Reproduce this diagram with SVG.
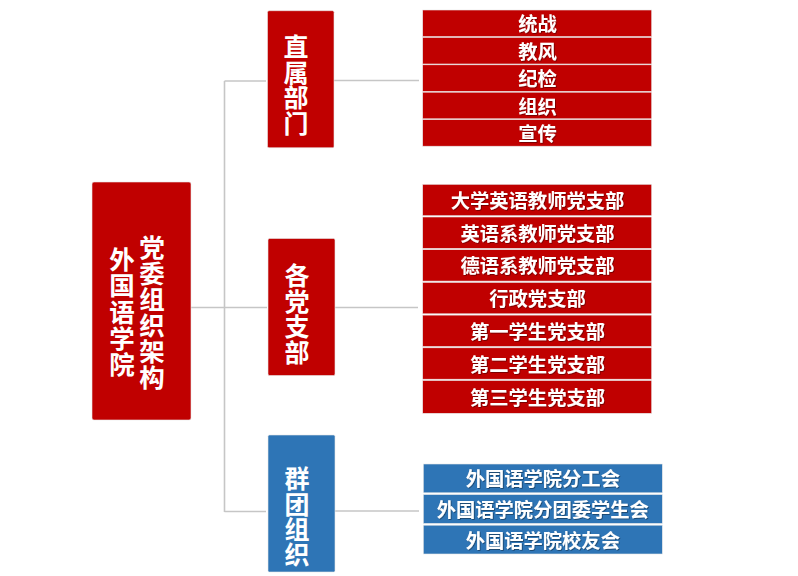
<svg xmlns="http://www.w3.org/2000/svg" width="798" height="576" viewBox="0 0 798 576">
<style>
.red{fill:#C00000}
.blue{fill:#2E75B6}
.box{stroke:#e8e8e8;stroke-width:0.6}
.t{font-family:"Noto Sans CJK SC","Noto Sans",sans-serif;font-weight:bold;fill:#ffffff;text-anchor:middle;dominant-baseline:central}
.big{font-size:25px}
.main{font-size:25.5px}
.row{font-size:19.3px;filter:url(#sh)}
.c{fill:none;stroke:#c6c6c6;stroke-width:1.6}
</style>
<defs>
<filter id="sh" x="-10%" y="-30%" width="120%" height="160%">
<feDropShadow dx="0.8" dy="0.8" stdDeviation="0.6" flood-color="#000" flood-opacity="0.45"/>
</filter>
</defs>
<rect width="798" height="576" fill="#ffffff"/>
<g id="connectors">
<path class="c" d="M224.5 81 V512"/>
<path class="c" d="M224.5 81 H266"/>
<path class="c" d="M191 307.5 H267"/>
<path class="c" d="M224.5 511.5 H266"/>
<path class="c" d="M334 80.5 H419"/>
<path class="c" d="M335 307.5 H418"/>
<path class="c" d="M335 511 H419"/>
</g>
<g id="root">
<rect class="red box" x="92" y="182" width="99" height="238" rx="2"/>
<text class="t main"><tspan x="152" y="245">党</tspan><tspan x="152" y="271">委</tspan><tspan x="152" y="297">组</tspan><tspan x="152" y="323">织</tspan><tspan x="152" y="349">架</tspan><tspan x="152" y="375">构</tspan></text>
<text class="t main"><tspan x="122" y="257">外</tspan><tspan x="122" y="283">国</tspan><tspan x="122" y="309.5">语</tspan><tspan x="122" y="336">学</tspan><tspan x="122" y="362">院</tspan></text>
</g>
<g id="zhishu">
<rect class="red box" x="267.5" y="10.7" width="66.5" height="137" rx="1.5"/>
<text class="t big"><tspan x="296" y="45">直</tspan><tspan x="296" y="70.5">属</tspan><tspan x="296" y="96">部</tspan><tspan x="296" y="121.5">门</tspan></text>
</g>
<g id="dangzhibu">
<rect class="red box" x="268" y="238.5" width="67" height="137" rx="1.5"/>
<text class="t big"><tspan x="297" y="273.5">各</tspan><tspan x="297" y="299.5">党</tspan><tspan x="297" y="325">支</tspan><tspan x="297" y="350.5">部</tspan></text>
</g>
<g id="quntuan">
<rect class="blue box" x="268" y="435" width="67" height="137" rx="1.5"/>
<text class="t big"><tspan x="297" y="477">群</tspan><tspan x="297" y="502.5">团</tspan><tspan x="297" y="528">组</tspan><tspan x="297" y="553">织</tspan></text>
</g>
<g id="list-zhishu">
<rect class="red box" x="422.7" y="10" width="229" height="26.6"/>
<rect class="red box" x="422.7" y="37.4" width="229" height="26.6"/>
<rect class="red box" x="422.7" y="64.8" width="229" height="26.6"/>
<rect class="red box" x="422.7" y="92.2" width="229" height="26.6"/>
<rect class="red box" x="422.7" y="119.6" width="229" height="26.6"/>
<text class="t row" x="537.5" y="23.3">统战</text>
<text class="t row" x="537.5" y="50.7">教风</text>
<text class="t row" x="537.5" y="78.1">纪检</text>
<text class="t row" x="537.5" y="105.5">组织</text>
<text class="t row" x="537.5" y="132.9">宣传</text>
</g>
<g id="list-dangzhibu">
<rect class="red box" x="422.7" y="184.3" width="229" height="31.4"/>
<rect class="red box" x="422.7" y="217" width="229" height="31.4"/>
<rect class="red box" x="422.7" y="249.7" width="229" height="31.4"/>
<rect class="red box" x="422.7" y="282.4" width="229" height="31.4"/>
<rect class="red box" x="422.7" y="315.1" width="229" height="31.4"/>
<rect class="red box" x="422.7" y="347.8" width="229" height="31.4"/>
<rect class="red box" x="422.7" y="380.5" width="229" height="32.8"/>
<text class="t row" x="537.5" y="200">大学英语教师党支部</text>
<text class="t row" x="537.5" y="232.7">英语系教师党支部</text>
<text class="t row" x="537.5" y="265.4">德语系教师党支部</text>
<text class="t row" x="537.5" y="298.1">行政党支部</text>
<text class="t row" x="537.5" y="330.8">第一学生党支部</text>
<text class="t row" x="537.5" y="363.5">第二学生党支部</text>
<text class="t row" x="537.5" y="396.5">第三学生党支部</text>
</g>
<g id="list-quntuan">
<rect class="blue box" x="423.3" y="464" width="239" height="28.8"/>
<rect class="blue box" x="423.3" y="494.6" width="239" height="28.8"/>
<rect class="blue box" x="423.3" y="525.2" width="239" height="28.8"/>
<text class="t row" x="542.8" y="478.4">外国语学院分工会</text>
<text class="t row" x="542.8" y="509">外国语学院分团委学生会</text>
<text class="t row" x="542.8" y="539.6">外国语学院校友会</text>
</g>
</svg>
